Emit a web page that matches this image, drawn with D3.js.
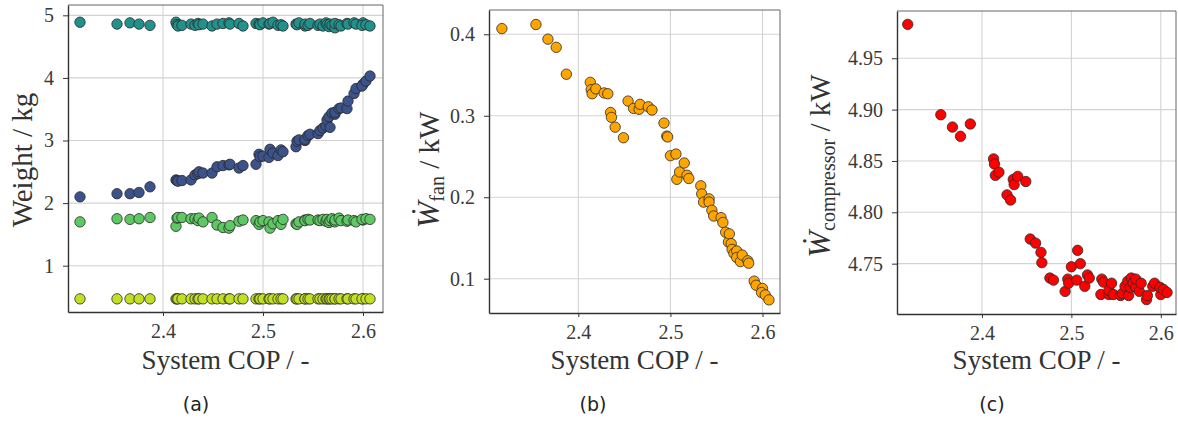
<!DOCTYPE html>
<html>
<head>
<meta charset="utf-8">
<script src="https://cdn.jsdelivr.net/npm/d3@7"></script>
<style>
  html, body { margin: 0; padding: 0; background: #fff; }
  svg { display: block; }
</style>
</head>
<body>
<svg id="chart" width="1178" height="423"></svg>
<script>
// ---------------- data ----------------
const cop = [2.317, 2.354, 2.367, 2.376, 2.387, 2.413, 2.414, 2.415, 2.419, 2.428,
  2.432, 2.435, 2.436, 2.440, 2.449, 2.454, 2.460, 2.466, 2.467, 2.476,
  2.480, 2.493, 2.496, 2.497, 2.500, 2.506, 2.507, 2.510, 2.515, 2.518,
  2.520, 2.533, 2.534, 2.536, 2.542, 2.542, 2.545, 2.547, 2.555, 2.557,
  2.560, 2.563, 2.564, 2.566, 2.567, 2.569, 2.572, 2.572, 2.576, 2.578,
  2.584, 2.585, 2.591, 2.593, 2.600, 2.599, 2.603, 2.607];

const weightTeal = [4.89, 4.86, 4.88, 4.86, 4.84, 4.89, 4.85, 4.83, 4.84, 4.86,
  4.84, 4.87, 4.85, 4.86, 4.83, 4.86, 4.87, 4.88, 4.86, 4.87,
  4.83, 4.87, 4.86, 4.85, 4.88, 4.86, 4.87, 4.89, 4.84, 4.85,
  4.83, 4.86, 4.85, 4.88, 4.83, 4.86, 4.84, 4.87, 4.84, 4.86,
  4.83, 4.88, 4.85, 4.82, 4.86, 4.84, 4.80, 4.87, 4.85, 4.83,
  4.87, 4.86, 4.88, 4.86, 4.88, 4.84, 4.85, 4.83];

const weightBlue = [2.10, 2.15, 2.15, 2.17, 2.26, 2.37, 2.36, 2.35, 2.36, 2.37,
  2.45, 2.47, 2.50, 2.48, 2.48, 2.58, 2.60, 2.61, 2.62, 2.56,
  2.60, 2.62, 2.78, 2.74, 2.75, 2.73, 2.86, 2.80, 2.76, 2.85,
  2.82, 2.90, 2.99, 3.01, 3.00, 3.02, 3.08, 3.10, 3.11, 3.16,
  3.20, 3.23, 3.33, 3.38, 3.21, 3.44, 3.42, 3.45, 3.51, 3.52,
  3.51, 3.63, 3.75, 3.83, 3.90, 3.87, 3.95, 4.03];

const weightGreen = [1.70, 1.75, 1.74, 1.75, 1.77, 1.63, 1.76, 1.77, 1.77, 1.75,
  1.75, 1.72, 1.76, 1.70, 1.77, 1.65, 1.61, 1.60, 1.64, 1.71,
  1.73, 1.72, 1.66, 1.70, 1.72, 1.70, 1.60, 1.67, 1.72, 1.66,
  1.74, 1.67, 1.66, 1.70, 1.73, 1.72, 1.74, 1.73, 1.73, 1.72,
  1.74, 1.71, 1.74, 1.69, 1.72, 1.75, 1.70, 1.73, 1.76, 1.72,
  1.71, 1.73, 1.72, 1.70, 1.73, 1.74, 1.75, 1.74];

const weightYellow = [0.47, 0.47, 0.47, 0.47, 0.47, 0.47, 0.47, 0.47, 0.47, 0.47,
  0.47, 0.47, 0.47, 0.47, 0.47, 0.47, 0.47, 0.47, 0.47, 0.47,
  0.47, 0.47, 0.47, 0.47, 0.47, 0.47, 0.47, 0.47, 0.47, 0.47,
  0.47, 0.47, 0.47, 0.47, 0.47, 0.47, 0.47, 0.47, 0.47, 0.47,
  0.47, 0.47, 0.47, 0.47, 0.47, 0.47, 0.47, 0.47, 0.47, 0.47,
  0.47, 0.47, 0.47, 0.47, 0.47, 0.47, 0.47, 0.47];

const fanPower = [0.407, 0.412, 0.394, 0.384, 0.351, 0.341, 0.332, 0.327, 0.333, 0.328,
  0.327, 0.304, 0.298, 0.286, 0.273, 0.318, 0.309, 0.308, 0.314, 0.311,
  0.307, 0.291, 0.275, 0.274, 0.251, 0.253, 0.222, 0.231, 0.242, 0.227,
  0.223, 0.214, 0.204, 0.194, 0.198, 0.194, 0.184, 0.177, 0.175, 0.169,
  0.157, 0.145, 0.155, 0.143, 0.136, 0.131, 0.134, 0.126, 0.121, 0.129,
  0.122, 0.119, 0.097, 0.092, 0.088, 0.083, 0.080, 0.074];

const compPower = [4.983, 4.895, 4.883, 4.874, 4.886, 4.852, 4.847, 4.836, 4.839, 4.817,
  4.812, 4.832, 4.827, 4.835, 4.830, 4.774, 4.770, 4.761, 4.751, 4.736,
  4.734, 4.723, 4.735, 4.731, 4.747, 4.734, 4.763, 4.750, 4.728, 4.739,
  4.736, 4.720, 4.735, 4.732, 4.720, 4.724, 4.731, 4.720, 4.719, 4.721,
  4.728, 4.733, 4.719, 4.727, 4.736, 4.731, 4.727, 4.735, 4.723, 4.731,
  4.715, 4.719, 4.728, 4.731, 4.720, 4.727, 4.725, 4.722];

const xTicks = [2.4, 2.5, 2.6];
const yTicksA = [1, 2, 3, 4, 5];
const yTicksB = [0.1, 0.2, 0.3, 0.4];
const yTicksC = [4.75, 4.80, 4.85, 4.90, 4.95];
const captions = ["(a)", "(b)", "(c)"];
const xLabel = "System COP / -";
const yLabelA = "Weight / kg";
const yLabelB = ["Ẇ", "fan", " / kW"];
const yLabelC = ["Ẇ", "compressor", " / kW"];

// ---------------- drawing ----------------
const svg = d3.select("#chart");
const serif = "'Liberation Serif', 'DejaVu Serif', serif";

const panels = [
  { left: 68, right: 383, top: 5, bottom: 312,
    xDom: [2.305, 2.62], yDom: [0.26, 5.165], yTicks: yTicksA, yFmt: d3.format("d"),
    series: [
      { vals: weightTeal, color: "#21918c" },
      { vals: weightBlue, color: "#3b528b" },
      { vals: weightGreen, color: "#5ec962" },
      { vals: weightYellow, color: "#c2df23" }
    ],
    ylab: { x: 25, y: 160, text: yLabelA },
    cap: { x: 196 }
  },
  { left: 489, right: 780, top: 10, bottom: 313,
    xDom: [2.303, 2.619], yDom: [0.0579, 0.4298], yTicks: yTicksB, yFmt: d3.format(".1f"),
    series: [{ vals: fanPower, color: "#ffa500" }],
    ylab: { x: 432, y: 170, parts: yLabelB },
    cap: { x: 593 }
  },
  { left: 897, right: 1176, top: 11, bottom: 314,
    xDom: [2.305, 2.617], yDom: [4.701, 4.996], yTicks: yTicksC, yFmt: d3.format(".2f"),
    series: [{ vals: compPower, color: "#ff0000" }],
    ylab: { x: 823, y: 166, parts: yLabelC },
    cap: { x: 992 }
  }
];

panels.forEach((p, i) => {
  const x = d3.scaleLinear().domain(p.xDom).range([p.left, p.right]);
  const y = d3.scaleLinear().domain(p.yDom).range([p.bottom, p.top]);
  const g = svg.append("g");

  // grid
  g.selectAll(".gx").data(xTicks).join("line")
    .attr("x1", d => x(d)).attr("x2", d => x(d))
    .attr("y1", p.top).attr("y2", p.bottom)
    .attr("stroke", "#d3d3d3").attr("stroke-width", 1.1);
  g.selectAll(".gy").data(p.yTicks).join("line")
    .attr("y1", d => y(d)).attr("y2", d => y(d))
    .attr("x1", p.left).attr("x2", p.right)
    .attr("stroke", "#d3d3d3").attr("stroke-width", 1.1);

  // points
  p.series.forEach(s => {
    g.append("g").selectAll("circle").data(cop).join("circle")
      .attr("cx", d => x(d))
      .attr("cy", (d, j) => y(s.vals[j]))
      .attr("r", 5.2)
      .attr("fill", s.color)
      .attr("stroke", "#2a2a2a")
      .attr("stroke-width", 0.8);
  });

  // frame
  g.append("line").attr("x1", p.left).attr("x2", p.right).attr("y1", p.top).attr("y2", p.top)
    .attr("stroke", "#666").attr("stroke-width", 1);
  g.append("line").attr("x1", p.right).attr("x2", p.right).attr("y1", p.top).attr("y2", p.bottom)
    .attr("stroke", "#666").attr("stroke-width", 1);

  // axes
  const xAxis = d3.axisBottom(x).tickValues(xTicks).tickFormat(d3.format(".1f"))
    .tickSizeInner(4).tickSizeOuter(0).tickPadding(8);
  const gx = g.append("g").attr("transform", `translate(0,${p.bottom})`).call(xAxis);
  const yAxis = d3.axisLeft(y).tickValues(p.yTicks).tickFormat(p.yFmt)
    .tickSizeInner(5).tickSizeOuter(0).tickPadding(9);
  const gy = g.append("g").attr("transform", `translate(${p.left},0)`).call(yAxis);
  [gx, gy].forEach(a => {
    a.attr("font-size", null).attr("font-family", null);
    a.select(".domain").attr("stroke", "#333").attr("stroke-width", 1.4);
    a.selectAll(".tick line").attr("stroke", "#333").attr("stroke-width", 1);
    a.selectAll(".tick text").style("font-family", serif).style("font-size", "20px")
      .attr("fill", "#3a3a3a");
  });

  // x label
  g.append("text").attr("x", (p.left + p.right) / 2).attr("y", 369)
    .attr("text-anchor", "middle").style("font-family", serif).style("font-size", "27px")
    .attr("fill", "#333").text(xLabel);

  // y label
  const yl = g.append("text")
    .attr("transform", `translate(${p.ylab.x},${p.ylab.y}) rotate(-90)`)
    .attr("text-anchor", "middle").attr("dominant-baseline", "middle")
    .style("font-family", serif).style("font-size", "29px").attr("fill", "#333");
  if (p.ylab.parts) {
    yl.append("tspan").style("font-style", "italic").style("font-size", "32px").text(p.ylab.parts[0]);
    yl.append("tspan").style("font-size", "20px").attr("dy", 7).text(p.ylab.parts[1]);
    yl.append("tspan").attr("dy", -7).text(p.ylab.parts[2]);
  } else {
    yl.text(p.ylab.text);
  }

  // caption
  g.append("text").attr("x", p.cap.x).attr("y", 411)
    .attr("text-anchor", "middle").style("font-family", "'DejaVu Sans', sans-serif")
    .style("font-size", "19px").attr("fill", "#222").text(captions[i]);
});
</script>
</body>
</html>
